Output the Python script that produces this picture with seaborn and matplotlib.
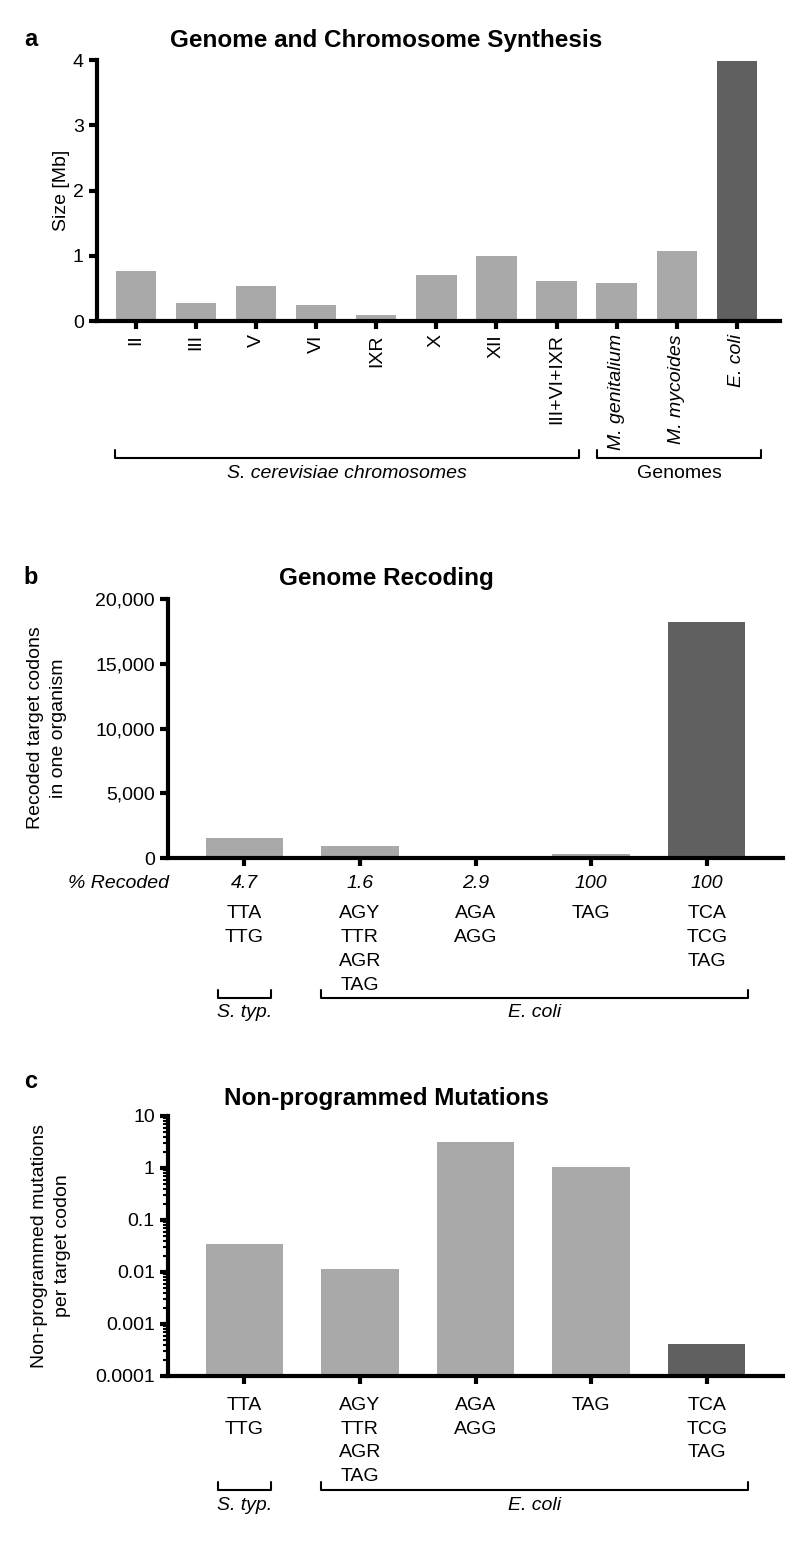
import numpy as np
import pandas as pd
import matplotlib
matplotlib.use('Agg')
import matplotlib.pyplot as plt
import matplotlib.transforms as mtransforms
from matplotlib.ticker import FuncFormatter, LogLocator, NullFormatter, FixedLocator, FixedFormatter
import seaborn as sns

# ---- data ----
chrom_names = ['II', 'III', 'V', 'VI', 'IXR', 'X', 'XII', 'III+VI+IXR',
               'M. genitalium', 'M. mycoides', 'E. coli']
chrom_size = [0.77, 0.27, 0.54, 0.24, 0.09, 0.71, 0.99, 0.61, 0.58, 1.08, 3.98]
chrom_kind = ['other'] * 10 + ['ecoli']

codon_sets = ['TTA\nTTG', 'AGY\nTTR\nAGR\nTAG', 'AGA\nAGG', 'TAG', 'TCA\nTCG\nTAG']
recoded_pct = ['4.7', '1.6', '2.9', '100', '100']
recoded_counts = [1557, 900, 123, 321, 18214]
mutation_rate = [0.035, 0.0115, 3.2, 1.05, 0.00041]
codon_kind = ['other', 'other', 'other', 'other', 'ecoli']

light = '#a9a9a9'
dark = '#606060'
pal = {'other': light, 'ecoli': dark}

sns.set_style('ticks')
plt.rcParams['font.family'] = ['Liberation Sans', 'DejaVu Sans']
plt.rcParams.update({
    'axes.linewidth': 3,
    'axes.edgecolor': 'black',
    'text.color': 'black',
    'axes.labelcolor': 'black',
    'xtick.color': 'black',
    'ytick.color': 'black',
})

W, H = 800, 1549
fig = plt.figure(figsize=(W / 100, H / 100), dpi=100)


def fy(px):
    return 1 - px / H


def ax_rect(x0, x1, ytop, ybot):
    return [x0 / W, fy(ybot), (x1 - x0) / W, (ybot - ytop) / H]


def style(ax):
    sns.despine(ax=ax)
    ax.tick_params(axis='both', which='major', width=3, length=6, labelsize=14, color='black')
    ax.set_xlabel('')
    ax.set_ylabel('')


def bracket(ax, x0, x1, ypx, label, italic=True):
    tr = mtransforms.blended_transform_factory(ax.transData, fig.transFigure)
    ax.plot([x0, x0, x1, x1], [fy(ypx - 8), fy(ypx), fy(ypx), fy(ypx - 8)],
            transform=tr, color='black', lw=1.5, clip_on=False)
    ax.text((x0 + x1) / 2, fy(ypx + 15), label, transform=tr, ha='center', va='center',
            fontsize=14, style='italic' if italic else 'normal')


# ---- panel a ----
df_a = pd.DataFrame({'name': chrom_names, 'size': chrom_size, 'kind': chrom_kind})
ax1 = fig.add_axes(ax_rect(97, 780, 60, 321))
sns.barplot(data=df_a, x='name', y='size', hue='kind', palette=pal, dodge=False,
            legend=False, width=0.67, linewidth=0, ax=ax1)
style(ax1)
ax1.set_ylim(0, 4)
ax1.set_yticks([0, 1, 2, 3, 4])
ax1.set_xlim(-0.65, 10.72)
for i, lbl in enumerate(ax1.get_xticklabels()):
    lbl.set_rotation(90)
    if i >= 8:
        lbl.set_style('italic')
fig.text(62 / W, fy(190), 'Size [Mb]', rotation=90, ha='center', va='center', fontsize=14)
bracket(ax1, -0.35, 7.37, 458, 'S. cerevisiae chromosomes')
bracket(ax1, 7.68, 10.4, 458, 'Genomes', italic=False)

# ---- panel b ----
df_b = pd.DataFrame({'codons': codon_sets, 'count': recoded_counts, 'kind': codon_kind})
ax2 = fig.add_axes(ax_rect(168, 783, 599, 858))
sns.barplot(data=df_b, x='codons', y='count', hue='kind', palette=pal, dodge=False,
            legend=False, width=0.67, linewidth=0, ax=ax2)
style(ax2)
ax2.set_ylim(0, 20000)
ax2.set_yticks([0, 5000, 10000, 15000, 20000])
ax2.yaxis.set_major_formatter(FuncFormatter(lambda v, p: f'{int(v):,}'))
ax2.set_xlim(-0.66, 4.66)
ax2.tick_params(axis='x', pad=28)
for lbl in ax2.get_xticklabels():
    lbl.set_linespacing(1.52)
tr2 = mtransforms.blended_transform_factory(ax2.transData, fig.transFigure)
for i, p in enumerate(recoded_pct):
    ax2.text(i, fy(884), p, transform=tr2, ha='center', va='center', fontsize=14, style='italic')
fig.text(118 / W, fy(884), '% Recoded', ha='center', va='center', fontsize=14, style='italic')
fig.text(47 / W, fy(728), 'Recoded target codons\nin one organism', rotation=90,
         ha='center', va='center', fontsize=14, linespacing=1.4)
bracket(ax2, -0.23, 0.23, 998, 'S. typ.')
bracket(ax2, 0.66, 4.36, 998, 'E. coli')

# ---- panel c ----
df_c = pd.DataFrame({'codons': codon_sets, 'rate': mutation_rate, 'kind': codon_kind})
ax3 = fig.add_axes(ax_rect(168, 783, 1116, 1376))
sns.barplot(data=df_c, x='codons', y='rate', hue='kind', palette=pal, dodge=False,
            legend=False, width=0.67, linewidth=0, ax=ax3)
style(ax3)
ax3.set_yscale('log')
ax3.set_ylim(1e-4, 10)
ax3.yaxis.set_major_locator(FixedLocator([1e-4, 1e-3, 1e-2, 1e-1, 1, 10]))
ax3.yaxis.set_major_formatter(FixedFormatter(['0.0001', '0.001', '0.01', '0.1', '1', '10']))
ax3.yaxis.set_minor_locator(LogLocator(base=10, subs=np.arange(2, 10)))
ax3.yaxis.set_minor_formatter(NullFormatter())
ax3.tick_params(axis='y', which='minor', width=1.5, length=3.5, color='black')
ax3.set_xlim(-0.66, 4.66)
ax3.tick_params(axis='x', pad=9)
for lbl in ax3.get_xticklabels():
    lbl.set_linespacing(1.52)
fig.text(51 / W, fy(1246), 'Non-programmed mutations\nper target codon', rotation=90,
         ha='center', va='center', fontsize=14, linespacing=1.4)
bracket(ax3, -0.23, 0.23, 1490, 'S. typ.')
bracket(ax3, 0.66, 4.36, 1490, 'E. coli')

# ---- titles & panel letters ----
for ypx, title in [(41, 'Genome and Chromosome Synthesis'), (578, 'Genome Recoding'),
                   (1098, 'Non-programmed Mutations')]:
    fig.text(386 / W, fy(ypx), title, ha='center', va='center', fontsize=17.5, fontweight='bold')
for ypx, letter in [(40, 'a'), (577, 'b'), (1082, 'c')]:
    fig.text(31 / W, fy(ypx), letter, ha='center', va='center', fontsize=17, fontweight='bold')

fig.savefig('out.png', dpi=100)
